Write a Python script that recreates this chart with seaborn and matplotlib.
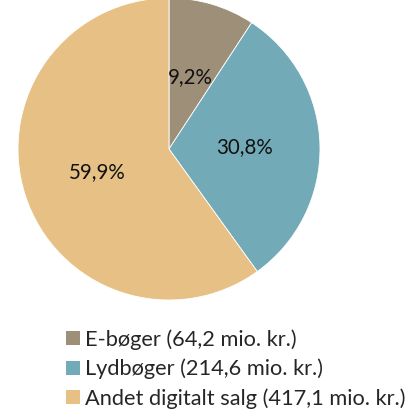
import matplotlib
matplotlib.use("Agg")
import matplotlib.pyplot as plt
import seaborn as sns
import numpy as np
from matplotlib.patches import Patch

sns.set_theme(style="white")
plt.rcParams['font.family'] = ['Lato', 'DejaVu Sans']

categories = ["E-bøger", "Lydbøger", "Andet digitalt salg"]
values_mio = [64.2, 214.6, 417.1]
pct_labels = ["9,2%", "30,8%", "59,9%"]
legend_labels = ["E-bøger (64,2 mio. kr.)", "Lydbøger (214,6 mio. kr.)",
                 "Andet digitalt salg (417,1 mio. kr.)"]
colors = ["#9E8F78", "#72AAB8", "#E6C084"]

W, H = 412, 411
fig = plt.figure(figsize=(W / 100, H / 100), dpi=100)
cx, cy, r = 169, 149, 151
ax = fig.add_axes([(cx - r) / W, (H - cy - r) / H, 2 * r / W, 2 * r / H])

wedges, _ = ax.pie(values_mio, colors=colors, startangle=90, counterclock=False,
                   radius=1, wedgeprops=dict(linewidth=0.6, edgecolor="white"))
ax.set_xlim(-1, 1)
ax.set_ylim(-1, 1)
ax.set_aspect("equal")
ax.axis("off")

total = sum(values_mio)
start = 90.0
for i, v in enumerate(values_mio):
    span = 360 * v / total
    mid = start - span / 2
    start -= span
    x = 0.5 * np.cos(np.radians(mid))
    y = 0.5 * np.sin(np.radians(mid))
    ax.text(x, y, pct_labels[i], ha="center", va="center", fontsize=14.8, color="#111111")

handles = [Patch(facecolor=c, edgecolor="none") for c in colors]
fig.legend(handles, legend_labels, loc="upper left", bbox_to_anchor=(66 / W, 1 - 329 / H),
           frameon=False, fontsize=15.7, handlelength=0.62, handleheight=0.62,
           handletextpad=0.25, labelspacing=0.42, borderaxespad=0, borderpad=0)

fig.savefig("out.png", dpi=100)
